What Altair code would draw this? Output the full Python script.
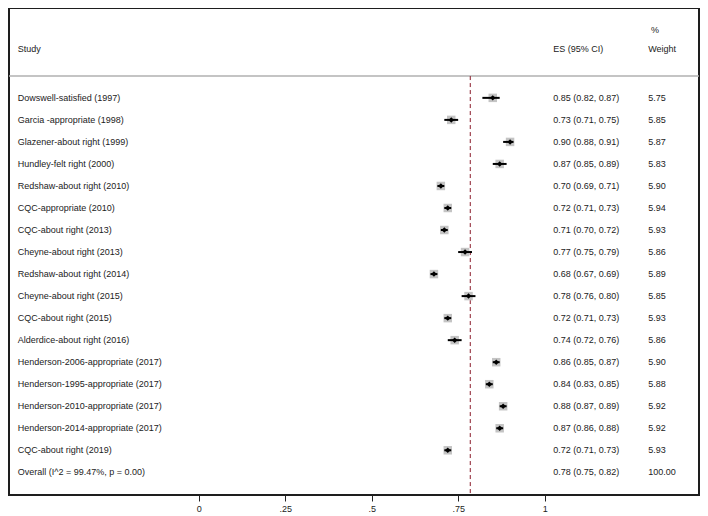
import altair as alt
import pandas as pd

studies = [
    "Dowswell-satisfied (1997)",
    "Garcia -appropriate (1998)",
    "Glazener-about right (1999)",
    "Hundley-felt right (2000)",
    "Redshaw-about right (2010)",
    "CQC-appropriate (2010)",
    "CQC-about right (2013)",
    "Cheyne-about right (2013)",
    "Redshaw-about right (2014)",
    "Cheyne-about right (2015)",
    "CQC-about right (2015)",
    "Alderdice-about right (2016)",
    "Henderson-2006-appropriate (2017)",
    "Henderson-1995-appropriate (2017)",
    "Henderson-2010-appropriate (2017)",
    "Henderson-2014-appropriate (2017)",
    "CQC-about right (2019)",
    "Overall  (I^2 = 99.47%, p = 0.00)",
]
es = [0.85, 0.73, 0.90, 0.87, 0.70, 0.72, 0.71, 0.77, 0.68, 0.78, 0.72, 0.74,
      0.86, 0.84, 0.88, 0.87, 0.72, 0.78]
lo = [0.82, 0.71, 0.88, 0.85, 0.69, 0.71, 0.70, 0.75, 0.67, 0.76, 0.71, 0.72,
      0.85, 0.83, 0.87, 0.86, 0.71, 0.75]
hi = [0.87, 0.75, 0.91, 0.89, 0.71, 0.73, 0.72, 0.79, 0.69, 0.80, 0.73, 0.76,
      0.87, 0.85, 0.89, 0.88, 0.73, 0.82]
weight = ["5.75", "5.85", "5.87", "5.83", "5.90", "5.94", "5.93", "5.86", "5.89",
          "5.85", "5.93", "5.86", "5.90", "5.88", "5.92", "5.92", "5.93", "100.00"]
overall_es = 0.785
ticks = [0, 0.25, 0.5, 0.75, 1]

df = pd.DataFrame({
    "row": list(range(len(studies))),
    "study": studies,
    "es": es,
    "lo": lo,
    "hi": hi,
    "weight": weight,
})
df["es_text"] = [f"{e:.2f} ({l:.2f}, {h:.2f})" for e, l, h in zip(es, lo, hi)]
df["is_study"] = [i < len(studies) - 1 for i in range(len(studies))]
studies_df = df[df["is_study"]]

XD = [-0.548, 1.446]
YD = [-4.08, 18.03]
FONT = "Liberation Sans"
TXT = "#222222"

xs = alt.Scale(domain=XD, nice=False, zero=False)
ys = alt.Scale(domain=YD, nice=False, zero=False, reverse=True)

base = alt.Chart(df)

text_study = base.mark_text(align="left", baseline="middle", font=FONT, fontSize=9, color=TXT).encode(
    x=alt.datum(-0.523, scale=xs),
    y=alt.Y("row:Q", scale=ys),
    text="study:N",
)
text_es = base.mark_text(align="left", baseline="middle", font=FONT, fontSize=9, color=TXT).encode(
    x=alt.datum(1.025, scale=xs),
    y=alt.Y("row:Q", scale=ys),
    text="es_text:N",
)
text_w = base.mark_text(align="left", baseline="middle", font=FONT, fontSize=9, color=TXT).encode(
    x=alt.datum(1.299, scale=xs),
    y=alt.Y("row:Q", scale=ys),
    text="weight:N",
)

hdr = pd.DataFrame({
    "label": ["Study", "ES (95% CI)", "%", "Weight"],
    "hx": [-0.523, 1.025, 1.307, 1.299],
    "hy": [-2.2, -2.2, -3.1, -2.2],
})
headers = alt.Chart(hdr).mark_text(align="left", baseline="middle", font=FONT, fontSize=9, color=TXT).encode(
    x=alt.X("hx:Q", scale=xs),
    y=alt.Y("hy:Q", scale=ys),
    text="label:N",
)

sep = alt.Chart(pd.DataFrame({"y": [-0.99]})).mark_rule(color="#b0b0b0", strokeWidth=1.5).encode(
    y=alt.Y("y:Q", scale=ys),
)

dash = alt.Chart(pd.DataFrame({"x": [overall_es], "y1": [-0.99], "y2": [YD[1]]})).mark_rule(
    color="#8b1a2a", strokeWidth=1, strokeDash=[4, 3]
).encode(
    x=alt.X("x:Q", scale=xs),
    y=alt.Y("y1:Q", scale=ys),
    y2="y2:Q",
)

boxes = alt.Chart(studies_df).mark_point(shape="square", filled=True, color="#c4c4c4", size=72, opacity=1).encode(
    x=alt.X("es:Q", scale=xs),
    y=alt.Y("row:Q", scale=ys),
)
ci = alt.Chart(studies_df).mark_rule(color="#000000", strokeWidth=2).encode(
    x=alt.X("lo:Q", scale=xs),
    x2="hi:Q",
    y=alt.Y("row:Q", scale=ys),
)
dots = alt.Chart(studies_df).mark_point(shape="diamond", filled=True, color="#000000", size=30, opacity=1).encode(
    x=alt.X("es:Q", scale=xs),
    y=alt.Y("row:Q", scale=ys),
)

axis_layer = alt.Chart(pd.DataFrame({"t": ticks})).mark_point(opacity=0).encode(
    x=alt.X(
        "t:Q",
        scale=xs,
        axis=alt.Axis(
            values=ticks,
            title=None,
            domain=False,
            grid=False,
            ticks=True,
            tickSize=6,
            tickColor="#222222",
            tickWidth=1,
            labelFont=FONT,
            labelFontSize=9,
            labelColor=TXT,
            labelPadding=3,
            labelExpr="datum.value == 0 ? '0' : datum.value == 1 ? '1' : substring(format(datum.value, '.2~f'), 1)",
        ),
    ),
    y=alt.datum(0, scale=ys, axis=None),
)

chart = alt.layer(
    axis_layer, sep, dash, boxes, ci, dots, text_study, text_es, text_w, headers
).properties(
    width=690, height=487, padding=0, background="white"
).configure_view(
    stroke="#1e1e1e", strokeWidth=2
)

chart.save("out.html", embed_options={"renderer": "svg", "actions": False})
